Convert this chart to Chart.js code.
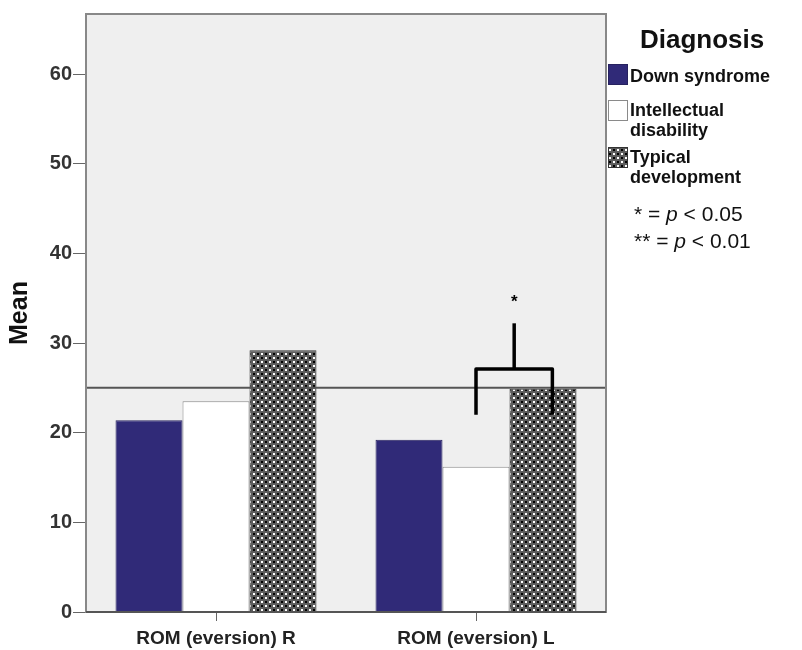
<!DOCTYPE html>
<html>
<head>
<meta charset="utf-8">
<script src="https://cdn.jsdelivr.net/npm/chart.js@4.4.1/dist/chart.umd.min.js"></script>
<style>
    html, body { margin: 0; padding: 0; background: #fff; }
</style>
</head>
<body>
<canvas id="myChart" width="802" height="650"></canvas>
<script>
const categories = ["ROM (eversion) R", "ROM (eversion) L"];
const seriesNames = ["Down syndrome", "Intellectual disability", "Typical development"];
const downSyndrome = [21.4, 19.2];
const intellectualDisability = [23.5, 16.2];
const typicalDevelopment = [29.2, 24.9];
const yTicks = [0, 10, 20, 30, 40, 50, 60];
const yMax = 66.7;
const referenceLine = 25;
// significance bracket on ROM (eversion) L, between series 1 and 2
const sigCategory = 1;
const sigSeries = [1, 2];
const sigLevels = [22, 27.1, 32.2, 34.5]; // leg ends, bracket, stem top, star
const sigLabel = "*";
const pNotes = [["* = ", "p", " < 0.05"], ["** = ", "p", " < 0.01"]];

function checkerPattern() {
    const c = document.createElement("canvas");
    c.width = 8;
    c.height = 8;
    const g = c.getContext("2d");
    g.fillStyle = "#5c5c5c";
    g.fillRect(0, 0, 8, 8);
    g.fillStyle = "#000";
    g.fillRect(1, 1, 2, 2);
    g.fillRect(5, 5, 2, 2);
    g.fillStyle = "#fff";
    g.fillRect(5, 1, 2, 2);
    g.fillRect(1, 5, 2, 2);
    return c.getContext("2d").createPattern(c, "repeat");
}
const pattern = checkerPattern();

const fills = ["#302a78", "#ffffff", pattern];
const borders = ["#27225f", "#8a8a8a", "#333333"];

function wrap(ctx, text, maxWidth) {
    const words = text.split(" ");
    const lines = [];
    let cur = "";
    words.forEach(w => {
        const test = cur ? cur + " " + w : w;
        if (cur && ctx.measureText(test).width > maxWidth) {
            lines.push(cur);
            cur = w;
        } else {
            cur = test;
        }
    });
    lines.push(cur);
    return lines;
}

const extras = {
    id: "extras",
    beforeDraw(chart) {
        const a = chart.chartArea;
        const ctx = chart.ctx;
        ctx.save();
        ctx.fillStyle = "#efefef";
        ctx.fillRect(a.left, a.top, a.right - a.left, a.bottom - a.top);
        ctx.restore();
    },
    afterDatasetsDraw(chart) {
        const a = chart.chartArea;
        const ctx = chart.ctx;
        const y = chart.scales.y;
        ctx.save();

        // reference line
        ctx.strokeStyle = "#555";
        ctx.lineWidth = 2;
        ctx.beginPath();
        ctx.moveTo(a.left, y.getPixelForValue(referenceLine));
        ctx.lineTo(a.right, y.getPixelForValue(referenceLine));
        ctx.stroke();

        // frame
        ctx.strokeStyle = "#888";
        ctx.lineWidth = 2;
        ctx.strokeRect(a.left, a.top, a.right - a.left, a.bottom - a.top);
        ctx.strokeStyle = "#555";
        ctx.beginPath();
        ctx.moveTo(a.left, a.bottom);
        ctx.lineTo(a.right, a.bottom);
        ctx.stroke();

        // significance bracket
        const b1 = chart.getDatasetMeta(sigSeries[0]).data[sigCategory];
        const b2 = chart.getDatasetMeta(sigSeries[1]).data[sigCategory];
        const x1 = b1.x;
        const x2 = b2.x + b2.width * 0.14;
        const xm = (x1 + x2) / 2;
        const yLeg = y.getPixelForValue(sigLevels[0]);
        const yBar = y.getPixelForValue(sigLevels[1]);
        const yTop = y.getPixelForValue(sigLevels[2]);
        ctx.strokeStyle = "#000";
        ctx.lineWidth = 3.5;
        ctx.lineJoin = "round";
        ctx.lineCap = "butt";
        ctx.beginPath();
        ctx.moveTo(x1, yLeg);
        ctx.lineTo(x1, yBar);
        ctx.lineTo(x2, yBar);
        ctx.lineTo(x2, yLeg);
        ctx.stroke();
        ctx.beginPath();
        ctx.moveTo(xm, yBar);
        ctx.lineTo(xm, yTop);
        ctx.stroke();
        ctx.fillStyle = "#000";
        ctx.font = "bold 17px 'Liberation Sans'";
        ctx.textAlign = "center";
        ctx.textBaseline = "middle";
        ctx.fillText(sigLabel, xm, y.getPixelForValue(sigLevels[3]));
        ctx.restore();
    },
    afterDraw(chart) {
        const ctx = chart.ctx;
        ctx.save();
        ctx.fillStyle = "#111";
        ctx.textAlign = "left";
        ctx.textBaseline = "alphabetic";
        ctx.font = "bold 26px 'Liberation Sans'";
        ctx.fillText("Diagnosis", 640, 48);

        ctx.font = "bold 18px 'Liberation Sans'";
        const tops = [64, 98, 145];
        chart.data.datasets.forEach((ds, i) => {
            const lines = wrap(ctx, ds.label, 150);
            const top = tops[i];
            const sy = top + (lines.length > 1 ? 2 : 0);
            ctx.fillStyle = fills[i];
            ctx.fillRect(608, sy, 20, 21);
            ctx.strokeStyle = borders[i];
            ctx.lineWidth = 1;
            ctx.strokeRect(608.5, sy + 0.5, 19, 20);
            ctx.fillStyle = "#111";
            lines.forEach((ln, j) => {
                ctx.fillText(ln, 630, top + 18 + j * 20);
            });
        });

        // p-value notes
        pNotes.forEach((parts, i) => {
            let x = 634;
            const yy = 221 + i * 27;
            parts.forEach((p, k) => {
                ctx.font = (k === 1 ? "italic " : "") + "21px 'Liberation Sans'";
                ctx.fillText(p, x, yy);
                x += ctx.measureText(p).width;
            });
        });
        ctx.restore();
    }
};

new Chart(document.getElementById("myChart"), {
    type: "bar",
    data: {
        labels: categories,
        datasets: [
            { label: seriesNames[0], data: downSyndrome, backgroundColor: fills[0], borderColor: borders[0], borderWidth: 1 },
            { label: seriesNames[1], data: intellectualDisability, backgroundColor: fills[1], borderColor: borders[1], borderWidth: 1 },
            { label: seriesNames[2], data: typicalDevelopment, backgroundColor: fills[2], borderColor: borders[2], borderWidth: 1 }
        ]
    },
    options: {
        responsive: false,
        animation: false,
        devicePixelRatio: 1,
        layout: { padding: { top: 14, right: 196, left: 0, bottom: 0 } },
        datasets: { bar: { categoryPercentage: 0.773, barPercentage: 1 } },
        plugins: { legend: { display: false }, tooltip: { enabled: false } },
        scales: {
            x: {
                grid: { display: true, drawOnChartArea: false, drawTicks: true, tickLength: 9, offset: false, color: "#666" },
                border: { display: false },
                ticks: { color: "#222", font: { family: "Liberation Sans", weight: "bold", size: 19 }, padding: 6 },
                afterFit: s => { s.height = 38; }
            },
            y: {
                min: 0,
                max: yMax,
                afterBuildTicks: s => { s.ticks = yTicks.map(v => ({ value: v })); },
                grid: { drawOnChartArea: false, drawTicks: true, tickLength: 13, color: "#666" },
                border: { display: false },
                ticks: { color: "#333", font: { family: "Liberation Sans", weight: "bold", size: 20 }, padding: 1 },
                title: { display: true, text: "Mean", color: "#111", font: { family: "Liberation Sans", weight: "bold", size: 25 }, padding: { top: 5, bottom: 0 } },
                afterFit: s => { s.width = 86; }
            }
        }
    },
    plugins: [extras]
});
</script>
</body>
</html>
